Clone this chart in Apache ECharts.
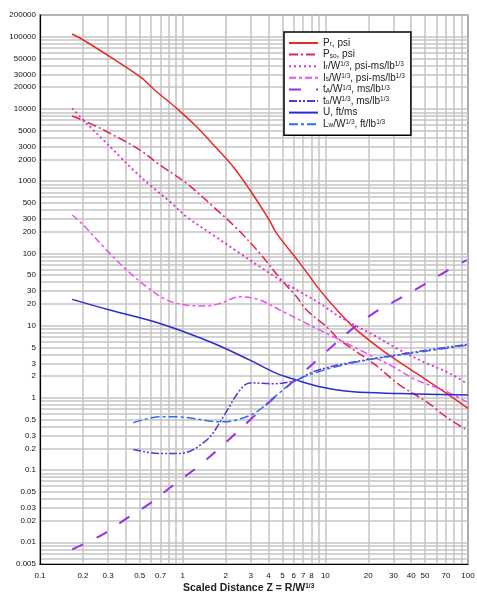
<html>
<head>
<meta charset="utf-8" />
<script src="https://cdn.jsdelivr.net/npm/echarts@6/dist/echarts.min.js"></script>
<style>
    html, body { margin: 0; padding: 0; background: #fff; }
    #chart { width: 477px; height: 593px; }
</style>
</head>
<body>
<div id="chart"></div>
<script>
    // axis labels
    var xLabels = [0.1, 0.2, 0.3, 0.5, 0.7, 1, 2, 3, 4, 5, 6, 7, 8, 10, 20, 30, 40, 50, 70, 100];
    var yLabels = [0.005, 0.01, 0.02, 0.03, 0.05, 0.1, 0.2, 0.3, 0.5, 1, 2, 3, 5, 10, 20, 30, 50,
        100, 200, 300, 500, 1000, 2000, 3000, 5000, 10000, 20000, 30000, 50000, 100000, 200000];

    // curves: [Z, value]
    var pr = [[0.168, 109000], [0.201, 90100], [0.309, 52900], [0.502, 27950], [0.657, 17330], [0.908, 10200],
        [1.253, 5675], [1.73, 2850], [2.26, 1585], [2.96, 754], [3.98, 305], [4.56, 189], [6.64, 72.8],
        [9.16, 31.0], [12.65, 14.8], [16.6, 8.67], [26.9, 4.12], [43.6, 2.18], [70.8, 1.15], [99.8, 0.714]];
    var pso = [[0.168, 7980], [0.224, 6320], [0.326, 4355], [0.502, 2700], [0.693, 1672], [1.067, 933],
        [1.639, 443], [2.39, 222], [3.48, 100], [4.81, 45.1], [6.29, 25.1], [7.39, 16.4], [10.2, 9.64],
        [12.65, 6.31], [21.7, 3.0], [33.3, 1.50], [51.3, 0.881], [72.6, 0.519], [98.7, 0.357]];
    var ir = [[0.168, 10200], [0.224, 5675], [0.278, 3715], [0.364, 2180], [0.451, 1426], [0.590, 883],
        [0.815, 519], [1.067, 321], [1.639, 179], [2.52, 100], [3.48, 65.3], [4.81, 42.7], [6.64, 29.4],
        [9.16, 20.3], [12.65, 13.2], [22.9, 7.0], [33.3, 4.58], [51.3, 3.0], [74.7, 2.18], [97.8, 1.58]];
    var is = [[0.168, 340], [0.201, 247], [0.293, 111], [0.405, 58.8], [0.559, 34.5], [0.773, 22.6],
        [1.067, 19.2], [1.473, 18.7], [1.824, 20.3], [2.52, 25.1], [3.48, 22.6], [4.81, 16.4], [6.64, 11.9],
        [9.16, 8.67], [12.0, 6.65], [19.5, 4.12], [29.9, 2.69], [43.6, 1.76], [67.0, 1.28], [97.8, 0.88]];
    var ta = [[0.168, 0.00796], [0.278, 0.0130], [0.405, 0.0214], [0.590, 0.0345], [0.859, 0.0618],
        [1.32, 0.117], [2.03, 0.246], [2.96, 0.492], [4.32, 0.98], [6.29, 1.85], [9.67, 4.0], [14.9, 8.5],
        [21.7, 14.8], [33.3, 23.8], [48.5, 36.4], [72.6, 58.8], [97.8, 80.9]];
    var to = [[0.451, 0.193], [0.693, 0.170], [0.957, 0.170], [1.473, 0.260], [1.925, 0.546], [2.52, 1.28],
        [2.96, 1.61], [4.32, 1.57], [6.29, 1.76], [8.19, 2.30], [14.1, 3.0], [33.3, 4.0], [57.0, 4.7], [99.8, 5.5]];
    var u = [[0.168, 23.1], [0.309, 16.4], [0.693, 10.7], [1.55, 5.97], [2.96, 3.33], [4.56, 2.18],
        [6.29, 1.76], [9.16, 1.42], [15.7, 1.21], [33.3, 1.15], [99.8, 1.09]];
    var lw = [[0.451, 0.451], [0.693, 0.546], [0.908, 0.546], [1.824, 0.466], [2.39, 0.492], [3.30, 0.641],
        [4.56, 1.09], [6.29, 1.76], [10.8, 2.56], [19.5, 3.33], [33.3, 3.91], [57.0, 4.58], [99.8, 5.37]];

    // grid lines at 1..9 of every decade
    function decadeSteps(fromExp, toExp, lo, hi) {
        var out = [];
        for (var e = fromExp; e <= toExp; e++) {
            for (var m = 1; m <= 9; m++) {
                var v = +(m * Math.pow(10, e)).toPrecision(3);
                if (v >= lo && v <= hi) out.push(v);
            }
        }
        return out;
    }
    var xGrid = decadeSteps(-1, 2, 0.1, 100);
    var yGrid = decadeSteps(-3, 5, 0.005, 200000);

    var legendText = {
        'Pr': 'P{sub|r}, psi',
        'Pso': 'P{sub|so}, psi',
        'Ir': 'I{sub|r}/W{sup|1/3}, psi-ms/lb{sup|1/3}',
        'Is': 'I{sub|s}/W{sup|1/3}, psi-ms/lb{sup|1/3}',
        'tA': 't{sub|A}/W{sup|1/3}, ms/lb{sup|1/3}',
        'to': 't{sub|o}/W{sup|1/3}, ms/lb{sup|1/3}',
        'U': 'U, ft/ms',
        'Lw': 'L{sub|w}/W{sup|1/3}, ft/lb{sup|1/3}'
    };

    function fmt(v) { return String(+(+v).toPrecision(6)); }

    function line(name, data, color, type, width) {
        return {
            name: name, type: 'line', data: data, smooth: 0.35, symbol: 'none',
            lineStyle: { color: color, type: type, width: width || 1.5 },
            itemStyle: { color: color, opacity: 0 },
            z: 3
        };
    }

    var myChart = echarts.init(document.getElementById('chart'));
    myChart.setOption({
        animation: false,
        backgroundColor: '#fff',
        title: {
            text: 'Scaled Distance Z = R/W{sup|1/3}',
            left: 183, top: 583, padding: 0,
            textStyle: {
                fontFamily: 'Arial', fontSize: 10.5, fontWeight: 'bold', color: '#222', lineHeight: 10,
                rich: { sup: { fontSize: 6.5, lineHeight: 6, verticalAlign: 'top', fontWeight: 'bold', color: '#222' } }
            }
        },
        grid: {
            left: 40, right: 9, top: 15, bottom: 29, outerBoundsMode: 'none', containLabel: false,
            show: true, borderColor: '#000', borderWidth: 1.2
        },
        legend: {
            orient: 'vertical', left: 284, top: 32,
            itemWidth: 29, itemHeight: 8, itemGap: 1.6,
            padding: [6, 6, 6, 4],
            backgroundColor: '#fff', borderColor: '#000', borderWidth: 1.5,
            itemStyle: { opacity: 0 },
            textStyle: {
                fontFamily: 'Arial', fontSize: 10, color: '#222', lineHeight: 10,
                rich: {
                    sub: { fontSize: 6.5, lineHeight: 6, verticalAlign: 'bottom', fontFamily: 'Arial', color: '#222' },
                    sup: { fontSize: 6.5, lineHeight: 6, verticalAlign: 'top', fontFamily: 'Arial', color: '#222' }
                }
            },
            formatter: function (name) { return legendText[name]; }
        },
        xAxis: {
            type: 'log', logBase: 10, min: 0.1, max: 100,
            axisLine: { lineStyle: { color: '#000', width: 1.2 } },
            axisTick: { show: false, customValues: xGrid },
            axisLabel: { customValues: xLabels, formatter: fmt, fontFamily: 'Arial', fontSize: 8, color: '#111', margin: 8 },
            splitLine: { show: true, lineStyle: { color: '#c4c4c4', width: 1.5 } }
        },
        yAxis: {
            type: 'log', logBase: 10, min: 0.005, max: 200000,
            axisLine: { lineStyle: { color: '#000', width: 1.2 } },
            axisTick: { show: false, customValues: yGrid },
            axisLabel: { customValues: yLabels, formatter: fmt, fontFamily: 'Arial', fontSize: 8, color: '#111', margin: 4 },
            splitLine: { show: true, lineStyle: { color: '#c4c4c4', width: 1.5 } }
        },
        series: [
            line('Pr', pr, '#e8282c', 'solid'),
            line('Pso', pso, '#e4234f', [9, 3, 2, 3]),
            line('Ir', ir, '#e02cd0', [2, 3], 1.8),
            line('Is', is, '#f04cf0', [7, 3, 3, 3]),
            line('tA', ta, '#9b2ee6', [12, 15], 2),
            line('to', to, '#5a34d6', [8, 2, 2, 2, 2, 2]),
            line('U', u, '#2b2bd0', 'solid'),
            line('Lw', lw, '#2f6fe6', [9, 3, 3, 3])
        ]
    });
</script>
</body>
</html>
